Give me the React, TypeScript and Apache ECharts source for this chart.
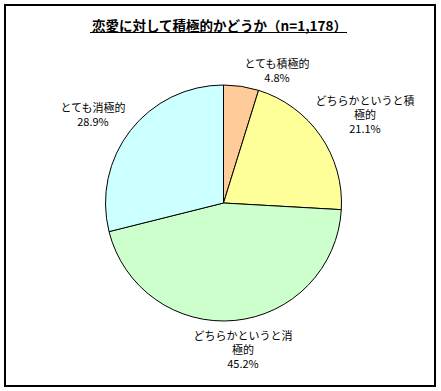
import React, { useEffect, useRef } from "react";
import * as echarts from "echarts";

const categories = ["とても積極的", "どちらかというと積極的", "どちらかというと消極的", "とても消極的"];
const labelTexts = ["とても積極的", "どちらかというと積\n極的", "どちらかというと消\n極的", "とても消極的"];
const values = [4.8, 21.1, 45.2, 28.9];
const colors = ["#FFCC99", "#FFFF99", "#CCFFCC", "#CCFFFF"];
const titleText = "恋愛に対して積極的かどうか（n=1,178）";

// label anchor positions (layout only)
const labelPos = [
  [277, 69.5],
  [365, 113.5],
  [243, 349],
  [93, 113.5],
];

export default function App() {
  const ref = useRef<HTMLDivElement>(null);
  useEffect(() => {
    document.body.style.margin = "0";
    const chart = echarts.init(ref.current!, null, { renderer: "svg" });
    const font = '"Noto Sans CJK JP", "Noto Sans", sans-serif';
    chart.setOption({
      animation: false,
      backgroundColor: "#ffffff",
      graphic: [
        {
          type: "rect",
          shape: { x: 5, y: 5, width: 430, height: 381 },
          style: { fill: "none", stroke: "#000", lineWidth: 2 },
          silent: true,
        },
        {
          type: "text",
          x: 219.5,
          y: 25,
          style: {
            text: titleText,
            font: `bold 13.5px ${font}`,
            fill: "#000",
            align: "center",
            verticalAlign: "middle",
          },
        },
        {
          type: "line",
          shape: { x1: 90, y1: 32.5, x2: 347, y2: 32.5 },
          style: { stroke: "#000", lineWidth: 1 },
        },
      ],
      series: [
        {
          type: "pie",
          center: [223.5, 203],
          radius: 118,
          startAngle: 90,
          clockwise: true,
          data: categories.map((c, i) => ({
            name: c,
            value: values[i],
            itemStyle: { color: colors[i] },
          })),
          itemStyle: { borderColor: "#000", borderWidth: 1 },
          emphasis: { disabled: true },
          label: {
            show: true,
            position: "outside",
            color: "#000",
            fontSize: 11,
            fontFamily: font,
            lineHeight: 14,
            align: "center",
            overflow: "none",
            width: 200,
            formatter: (p: any) => `${labelTexts[p.dataIndex]}\n${p.value.toFixed(1)}%`,
          },
          labelLine: { show: false },
          labelLayout: (p: any) => ({
            x: labelPos[p.dataIndex][0],
            y: labelPos[p.dataIndex][1],
            align: "center",
            verticalAlign: "middle",
          }),
        },
      ],
    });
    return () => chart.dispose();
  }, []);
  return <div ref={ref} style={{ width: 441, height: 391 }} />;
}
